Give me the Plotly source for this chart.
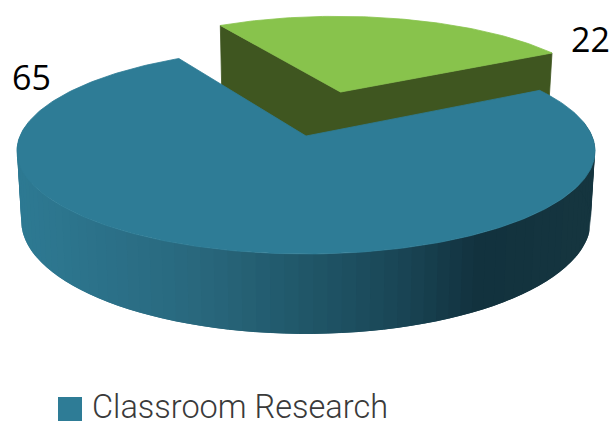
import numpy as np
import plotly.graph_objects as go

categories = ["Classroom Research", "Other"]
values = [65, 22]
label_texts = ["65", "22"]

# projection of the tilted pie (pixel-like axes)
CX, CY = 306.0, 136.0
A, B, K = 286.0, 100.8, 0.1456
DEPTH = 68.3
START = 29.0          # angle where the green slice begins (math degrees)
EXPLODE = 0.483
BLUE_TOP = "#2E7C96"
GREEN_TOP, GREEN_WALL = "#88C34C", "#3F5620"
SIDE_STOPS_X = [17, 100, 200, 300, 400, 480, 595]
SIDE_STOPS_RGB = [(46, 122, 147), (44, 114, 138), (41, 104, 125), (33, 88, 106),
                  (26, 70, 86), (18, 50, 62), (22, 54, 64)]


def project(X, Y, z=0.0):
    d = 1 + K * np.asarray(Y)
    shrink = 1 - 0.015 * z
    x = CX + shrink * A * np.asarray(X) / d
    y = CY - B * np.asarray(Y) / d + z * DEPTH / d
    return x, y


def ring(t, r=1.0, ox=0.0, oy=0.0):
    rad = np.radians(t)
    return ox + r * np.cos(rad), oy + r * np.sin(rad)


total = sum(values)
green_span = 360 * values[1] / total
green_t = np.linspace(START, START + green_span, 80)
blue_t = np.linspace(START + green_span, START + 360, 260)
mid = np.radians(START + green_span / 2)
ox, oy = EXPLODE * np.cos(mid), EXPLODE * np.sin(mid)

fig = go.Figure()


def poly(x, y, color, name=None, width=0.8):
    fig.add_trace(go.Scatter(x=list(x), y=list(y), mode="lines", fill="toself", fillcolor=color,
                             line=dict(color=color, width=width), hoverinfo="skip",
                             showlegend=False, name=name))


# green slice walls and top; the wall's lower edge runs on behind the blue slice
gx, gy = ring(green_t, 0.97, ox, oy)
ax, ay = project(ox, oy)
bx, by = project(ox, oy, 1.6)
lx, ly = project(gx[-1], gy[-1])
lbx, lby = project(gx[-1], gy[-1], 1.15)
rx, ry = project(gx[0], gy[0])
rbx, rby = project(gx[0], gy[0], 1)
poly([lx, ax, rx, rbx, bx, lbx, lx], [ly, ay, ry, rby, by, lby, ly], GREEN_WALL)
tx, ty = project(gx, gy)
poly(np.r_[ax, tx, ax], np.r_[ay, ty, ay], GREEN_TOP, categories[1])

# blue side strips, painted left to right, each overlapping the next
edges = np.linspace(172, 368, 80)
step = edges[1] - edges[0]
for t1, t2 in zip(edges[:-1], edges[1:]):
    strip_t = np.linspace(t1, min(t2 + step, 368), 5)
    qx, qy = ring(strip_t)
    x0, y0 = project(qx, qy)
    x1, y1 = project(qx, qy, 1)
    xm = x0[:3].mean()
    rgb = [np.interp(xm, SIDE_STOPS_X, [c[i] for c in SIDE_STOPS_RGB]) for i in range(3)]
    col = "rgb(%d,%d,%d)" % tuple(rgb)
    poly(np.r_[x0, x1[::-1], x0[0]], np.r_[y0, y1[::-1], y0[0]], col, width=0)

# blue top
bxs, bys = ring(blue_t)
px, py = project(bxs, bys)
a0x, a0y = project(0, 0)
poly(np.r_[a0x, px, a0x], np.r_[a0y, py, a0y], BLUE_TOP, categories[0])

# legend swatch and text
fig.add_trace(go.Scatter(x=[70], y=[409], mode="markers", showlegend=False, hoverinfo="skip",
                         marker=dict(symbol="square", size=24, color=BLUE_TOP)))
fig.add_trace(go.Scatter(x=[92], y=[409.5], mode="text", text=[categories[0]], textposition="middle right",
                         showlegend=False, hoverinfo="skip", cliponaxis=False,
                         textfont=dict(family="Roboto", size=32.5, weight=300, color="#3A3A3A")))

fig.add_annotation(x=31, y=77, text=label_texts[0], showarrow=False,
                   font=dict(family="Open Sans", size=34, color="#000000"))
fig.add_annotation(x=590, y=39, text=label_texts[1], showarrow=False,
                   font=dict(family="Open Sans", size=34, color="#000000"))

fig.update_layout(width=614, height=425, margin=dict(l=0, r=0, t=0, b=0),
                  paper_bgcolor="white", plot_bgcolor="white", showlegend=False)
fig.update_xaxes(visible=False, range=[0, 614], fixedrange=True)
fig.update_yaxes(visible=False, range=[425, 0], fixedrange=True)
fig.write_html("out.html", config=dict(displayModeBar=False),
               post_script="document.body.style.margin='0';document.body.style.overflow='hidden';")
